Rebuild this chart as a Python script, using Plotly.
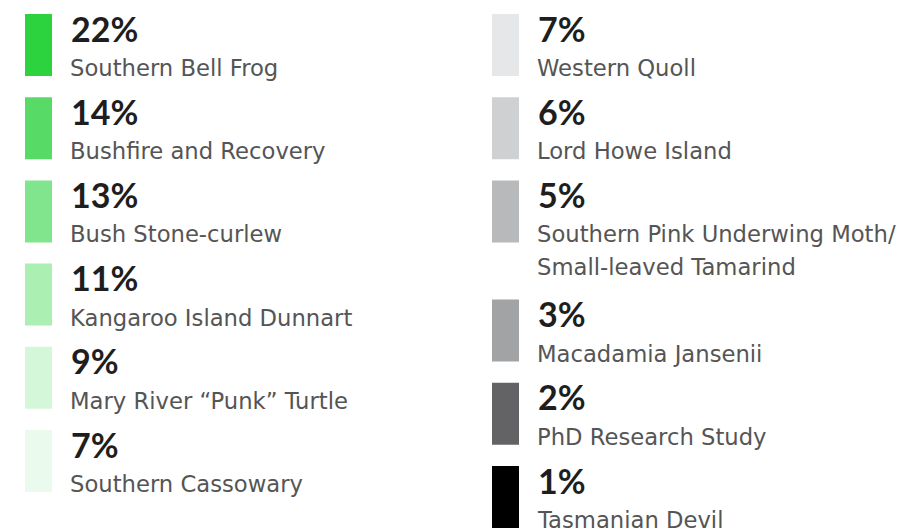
import plotly.graph_objects as go

labels = ["Southern Bell Frog", "Bushfire and Recovery", "Bush Stone-curlew",
          "Kangaroo Island Dunnart", "Mary River \u201cPunk\u201d Turtle", "Southern Cassowary",
          "Western Quoll", "Lord Howe Island",
          "Southern Pink Underwing Moth/<br>Small-leaved Tamarind",
          "Macadamia Jansenii", "PhD Research Study", "Tasmanian Devil"]
values = [22, 14, 13, 11, 9, 7, 7, 6, 5, 3, 2, 1]
colors = ["#2dd23f", "#57db66", "#80e58c", "#abefb3", "#d4f6d9", "#eafaec",
          "#e6e7e8", "#cfd0d2", "#b8b9bb", "#a2a3a5", "#636365", "#000000"]
column = [0, 0, 0, 0, 0, 0, 1, 1, 1, 1, 1, 1]

COL_X = [25, 492]
SW_W = 27
SW_H = 62
STEP = 83.2
EXTRA = 36
LINE_GAP = 33
TOP0 = 14
TEXT_DX = 44

tops = []
cur = {0: TOP0, 1: TOP0}
for lab, c in zip(labels, column):
    tops.append(cur[c])
    cur[c] += STEP + EXTRA * lab.count("<br>")

fig = go.Figure()
fig.add_trace(go.Bar(
    x=[COL_X[c] + SW_W / 2 for c in column],
    y=[SW_H] * len(values),
    base=tops,
    width=SW_W,
    marker=dict(color=colors, line=dict(width=0)),
    hoverinfo="skip",
))

annotations = []
for lab, v, c, t in zip(labels, values, column, tops):
    x0 = COL_X[c] + TEXT_DX
    annotations.append(dict(x=x0, y=t + 14, text=f"<b>{v}%</b>", showarrow=False,
                            xanchor="left", yanchor="middle", xref="x", yref="y",
                            font=dict(family="Lato", size=34, color="#1e1e1e")))
    for k, line in enumerate(lab.split("<br>")):
        annotations.append(dict(x=x0 - 1, y=t + 54 + LINE_GAP * k, text=line, showarrow=False,
                                xanchor="left", yanchor="middle", xref="x", yref="y", align="left",
                                font=dict(family="DejaVu Sans", size=22.7, color="#555555")))

fig.update_layout(
    width=900, height=530,
    margin=dict(l=0, r=0, t=0, b=0),
    paper_bgcolor="white", plot_bgcolor="white",
    showlegend=False,
    xaxis=dict(range=[0, 900], visible=False, fixedrange=True),
    yaxis=dict(range=[530, 0], visible=False, fixedrange=True),
    annotations=annotations,
)
fig.write_html("out.html")
